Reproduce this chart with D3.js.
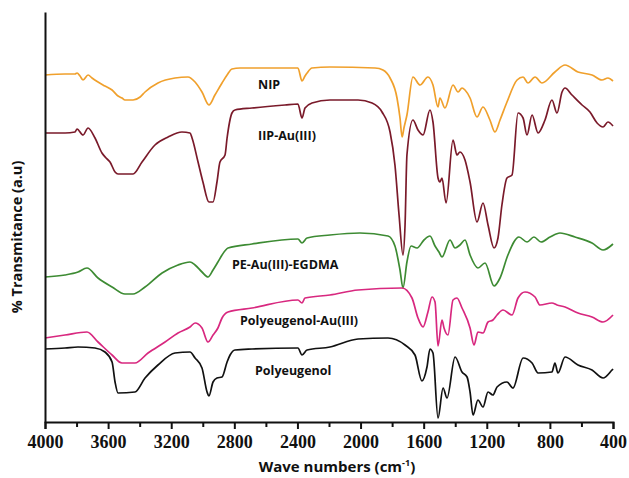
<!DOCTYPE html>
<html>
<head>
<meta charset="utf-8">
<script src="https://cdn.jsdelivr.net/npm/d3@7"></script>
<style>
  body { margin: 0; background: #fff; }
  .label { font-family: "Open Sans", sans-serif; font-weight: bold; font-size: 12.5px; fill: #111; }
  .aText { font-family: "Open Sans", sans-serif; font-weight: bold; fill: #111; }
  .xAxis text { font-family: "Liberation Serif", serif; font-weight: bold; font-size: 18px; fill: #111; }
</style>
</head>
<body>
<div id="chart"></div>
<script>
// FTIR spectra, [wave number (cm-1), transmittance (a.u.)]
var nipData = [[4000,347],[3873,348],[3810,348],[3797,349],[3778,346],[3759,342],[3727,347],[3702,344],[3664,340],[3620,336],[3575,332],[3537,326],[3512,324],[3493,322],[3442,322],[3397,325],[3366,330],[3284,339],[3176,344],[3094,345],[3049,340],[3005,330],[2961,317],[2923,327],[2878,339],[2846,347],[2815,353],[2764,354],[2397,354],[2371,341],[2352,346],[2339,349],[2308,354],[2194,355],[1908,354],[1858,352],[1813,344],[1769,324],[1750,304],[1737,285],[1725,294],[1706,307],[1668,345],[1623,337],[1573,345],[1541,337],[1509,315],[1497,324],[1465,314],[1414,337],[1382,330],[1357,334],[1338,332],[1306,324],[1262,305],[1224,315],[1180,302],[1148,290],[1116,302],[1072,320],[1008,342],[970,345],[939,339],[894,345],[850,339],[768,350],[704,357],[622,350],[533,347],[470,342],[432,344],[400,341]];

var iipData = [[4000,289],[3873,289],[3810,290],[3797,293],[3759,287],[3727,294],[3683,284],[3639,269],[3613,264],[3588,260],[3556,250],[3537,248],[3442,248],[3385,260],[3303,277],[3220,285],[3132,290],[3081,289],[3068,284],[3030,260],[2999,240],[2961,220],[2935,220],[2910,240],[2891,260],[2859,267],[2846,284],[2815,309],[2796,312],[2688,314],[2479,317],[2397,318],[2371,304],[2352,314],[2308,319],[2194,322],[2016,322],[1927,319],[1864,310],[1813,290],[1782,257],[1756,207],[1731,167],[1718,197],[1706,267],[1668,302],[1636,292],[1604,287],[1560,312],[1541,300],[1509,244],[1497,240],[1484,244],[1458,219],[1414,282],[1389,267],[1370,270],[1338,262],[1306,240],[1262,200],[1224,219],[1192,197],[1154,174],[1129,184],[1104,217],[1072,244],[1040,247],[1002,309],[970,304],[945,287],[913,307],[875,289],[831,302],[787,322],[755,309],[723,330],[704,334],[660,327],[596,317],[546,310],[501,299],[463,295],[432,300],[400,296]];

var peData = [[4000,145],[3873,147],[3791,150],[3734,154],[3664,144],[3575,135],[3493,128],[3442,128],[3366,135],[3258,149],[3157,157],[3081,160],[3049,157],[3005,150],[2967,145],[2935,152],[2904,160],[2878,167],[2840,174],[2688,178],[2397,183],[2371,179],[2339,184],[2194,187],[2004,189],[1826,186],[1782,176],[1750,152],[1731,134],[1706,160],[1680,176],[1642,174],[1598,182],[1560,186],[1528,176],[1503,170],[1484,165],[1433,182],[1401,174],[1370,177],[1338,182],[1306,167],[1256,154],[1211,159],[1154,136],[1116,144],[1066,167],[996,185],[945,180],[901,185],[856,180],[799,185],[736,189],[641,185],[533,179],[463,172],[400,178]];

var peAuData = [[4000,84],[3873,87],[3734,90],[3664,80],[3575,67],[3512,59],[3430,59],[3347,69],[3239,80],[3157,89],[3081,95],[3049,99],[3005,94],[2967,80],[2935,87],[2904,94],[2878,104],[2840,110],[2688,114],[2397,122],[2371,119],[2352,124],[2194,127],[2016,132],[1737,134],[1674,124],[1636,104],[1604,95],[1573,110],[1547,125],[1528,120],[1509,76],[1484,102],[1471,94],[1446,87],[1414,122],[1389,124],[1357,114],[1306,94],[1281,77],[1256,90],[1224,89],[1192,100],[1161,102],[1135,107],[1097,112],[1040,107],[1002,124],[958,130],[894,125],[863,117],[787,119],[755,117],[704,115],[622,109],[533,105],[463,100],[400,107]];

var peugData = [[4000,73],[3873,74],[3791,75],[3683,74],[3620,70],[3575,60],[3556,40],[3537,29],[3430,30],[3366,44],[3284,57],[3176,69],[3081,70],[3049,64],[3005,54],[2973,30],[2961,26],[2935,40],[2910,44],[2878,45],[2846,60],[2827,67],[2796,72],[2688,73],[2397,74],[2371,67],[2339,72],[2194,75],[2016,83],[1826,84],[1718,77],[1655,67],[1611,41],[1579,55],[1560,73],[1541,69],[1509,4],[1477,34],[1452,24],[1401,65],[1357,50],[1325,45],[1306,30],[1287,7],[1256,22],[1224,15],[1192,30],[1161,27],[1135,35],[1072,40],[1034,34],[970,64],[913,59],[875,49],[787,50],[768,59],[749,49],[704,65],[622,57],[533,52],[463,44],[406,52],[400,53]];

var seriesNames = ["NIP", "IIP-Au(III)", "PE-Au(III)-EGDMA", "Polyeugenol-Au(III)", "Polyeugenol"];
var seriesColors = ["#f0a02c", "#7a1a2a", "#3d8b33", "#d8287f", "#111111"];
var xTicks = [4000, 3800, 3600, 3400, 3200, 3000, 2800, 2600, 2400, 2200, 2000, 1800, 1600, 1400, 1200, 1000, 800, 600, 400];
var xTickLabels = [4000, 3600, 3200, 2800, 2400, 2000, 1600, 1200, 800, 400];

var svgWidth = 629, svgHeight = 478;
var margin = { top: 12, right: 16, bottom: 56, left: 45 };
var width = svgWidth - margin.left - margin.right;
var height = svgHeight - margin.top - margin.bottom;

var svg = d3.select("#chart").append("svg")
    .attr("width", svgWidth)
    .attr("height", svgHeight);

var chartGroup = svg.append("g")
    .attr("transform", `translate(${margin.left}, ${margin.top})`);

var xScale = d3.scaleLinear().domain([4000, 400]).range([0, width]);
var yScale = d3.scaleLinear().domain([0, 410]).range([height, 0]);

// lines
var line = d3.line()
    .x(d => xScale(d[0]))
    .y(d => yScale(d[1]))
    .curve(d3.curveMonotoneX);

var allData = [nipData, iipData, peData, peAuData, peugData];
allData.forEach(function(data, i) {
  chartGroup.append("path")
      .datum(data)
      .attr("fill", "none")
      .attr("stroke", seriesColors[i])
      .attr("stroke-width", 1.7)
      .attr("stroke-linejoin", "round")
      .attr("d", line);
});

// series labels [wave number, value at baseline]
var labelPos = [[2650, 333], [2650, 282], [2815, 153], [2764, 97], [2669, 47]];
labelPos.forEach(function(p, i) {
  chartGroup.append("text")
      .attr("class", "label")
      .attr("x", xScale(p[0]))
      .attr("y", yScale(p[1]))
      .text(seriesNames[i]);
});

// axes
var xAxis = d3.axisBottom(xScale)
    .tickValues(xTicks)
    .tickSizeOuter(0)
    .tickSize(7)
    .tickPadding(6)
    .tickFormat(d => xTickLabels.indexOf(d) >= 0 ? d : "");

var xg = chartGroup.append("g")
    .attr("class", "xAxis")
    .attr("transform", `translate(0, ${height})`)
    .call(xAxis);
xg.select(".domain").attr("stroke-width", 2).attr("stroke", "#111");
xg.selectAll(".tick line").attr("stroke-width", 2).attr("stroke", "#111")
    .attr("y2", d => xTickLabels.indexOf(d) >= 0 ? 7 : 5);

var yg = chartGroup.append("g")
    .call(d3.axisLeft(yScale).tickValues([]).tickSizeOuter(0));
yg.select(".domain").attr("stroke-width", 2).attr("stroke", "#111");

// axis titles
var xt = chartGroup.append("text")
    .attr("class", "aText")
    .attr("font-size", 15)
    .attr("text-anchor", "middle")
    .attr("x", 337 - margin.left)
    .attr("y", height + 50);
xt.append("tspan").text("Wave numbers (cm");
xt.append("tspan").attr("font-size", 9).attr("dy", -6).text("-1");
xt.append("tspan").attr("dy", 6).text(")");

chartGroup.append("text")
    .attr("class", "aText")
    .attr("font-size", 14.5)
    .attr("text-anchor", "middle")
    .attr("transform", `translate(${-margin.left + 22}, ${237 - margin.top}) rotate(-90)`)
    .text("% Transmitance (a.u)");
</script>
</body>
</html>
